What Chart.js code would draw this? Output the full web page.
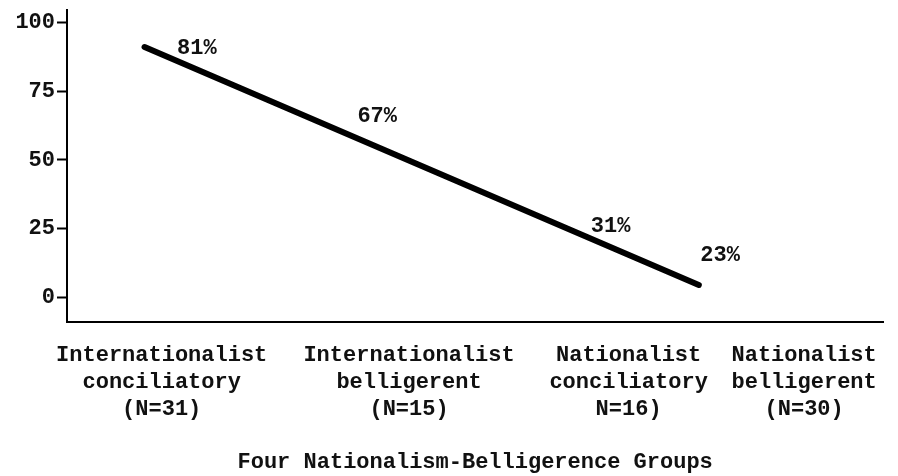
<!DOCTYPE html>
<html>
<head>
<meta charset="utf-8">
<script src="https://cdn.jsdelivr.net/npm/chart.js@4.4.1/dist/chart.umd.min.js"></script>
<style>
  html, body { margin: 0; padding: 0; background: #ffffff; }
  #wrap { width: 898px; height: 476px; position: relative; }
</style>
</head>
<body>
<div id="wrap"><canvas id="c" width="898" height="476"></canvas></div>
<script>
// ---- data ----
const groupLabels = [
  ["Internationalist", "conciliatory", "(N=31)"],
  ["Internationalist", "belligerent", "(N=15)"],
  ["Nationalist", "conciliatory", "N=16)"],
  ["Nationalist", "belligerent", "(N=30)"]
];
const groupX = [11.6, 41.9, 68.8, 90.3];          // where each group sits on the x axis
const yTicks = [0, 25, 50, 75, 100];
const trendX = [9.5, 77.4];                        // drawn trend line (straight)
const trendY = [91.2, 4.4];
const percentages = [81, 67, 31, 23];
const pctLabelX = [15.9, 38.0, 66.6, 80.0];        // where the percentage texts sit
const pctLabelY = [90.5, 65.7, 25.9, 15.0];
const xTitle = "Four Nationalism-Belligerence Groups";

const FONT = "'Liberation Mono', 'DejaVu Sans Mono', monospace";

const pctTextPlugin = {
  id: 'pctText',
  afterDatasetsDraw(chart) {
    const meta = chart.getDatasetMeta(1);
    const ctx = chart.ctx;
    ctx.save();
    ctx.font = "bold 22px " + FONT;
    ctx.fillStyle = "#111";
    ctx.textAlign = "center";
    ctx.textBaseline = "middle";
    meta.data.forEach((pt, i) => {
      ctx.fillText(percentages[i] + "%", pt.x, pt.y);
    });
    ctx.restore();
  }
};

new Chart(document.getElementById('c'), {
  type: 'line',
  data: {
    datasets: [
      {
        data: trendX.map((x, i) => ({ x: x, y: trendY[i] })),
        borderColor: '#000',
        borderWidth: 6,
        borderCapStyle: 'round',
        pointRadius: 0,
        tension: 0,
        fill: false
      },
      {
        data: pctLabelX.map((x, i) => ({ x: x, y: pctLabelY[i] })),
        showLine: false,
        pointRadius: 0,
        borderWidth: 0
      }
    ]
  },
  options: {
    responsive: false,
    animation: false,
    events: [],
    layout: { padding: { left: 0, top: 10, right: 13, bottom: 0 } },
    plugins: {
      legend: { display: false },
      tooltip: { enabled: false },
      title: { display: false }
    },
    scales: {
      x: {
        type: 'linear',
        min: 0,
        max: 100,
        afterBuildTicks: (s) => { s.ticks = groupX.map(v => ({ value: v })); },
        afterFit: (s) => { s.height = 154; },
        grid: { display: true, drawOnChartArea: false, drawTicks: false },
        border: { display: true, color: '#000', width: 2 },
        ticks: {
          autoSkip: false,
          maxRotation: 0,
          padding: 20,
          color: '#111',
          font: { family: FONT, size: 22, weight: 'bold', lineHeight: 1.22 },
          callback: (v, i) => groupLabels[i]
        },
        title: {
          display: true,
          text: xTitle,
          color: '#111',
          font: { family: FONT, size: 22, weight: 'bold' },
          padding: { top: 0, bottom: 0 }
        }
      },
      y: {
        type: 'linear',
        min: -9.1,
        max: 104.7,
        afterBuildTicks: (s) => { s.ticks = yTicks.map(v => ({ value: v })); },
        afterFit: (s) => { s.width = 67; s.paddingTop = 0; s.paddingBottom = 0; },
        grid: { display: true, drawOnChartArea: false, drawTicks: true, tickLength: 10, tickColor: '#000', tickWidth: 2 },
        border: { display: true, color: '#000', width: 2 },
        ticks: {
          padding: 2,
          color: '#111',
          font: { family: FONT, size: 22, weight: 'bold' }
        }
      }
    }
  },
  plugins: [pctTextPlugin]
});
</script>
</body>
</html>
